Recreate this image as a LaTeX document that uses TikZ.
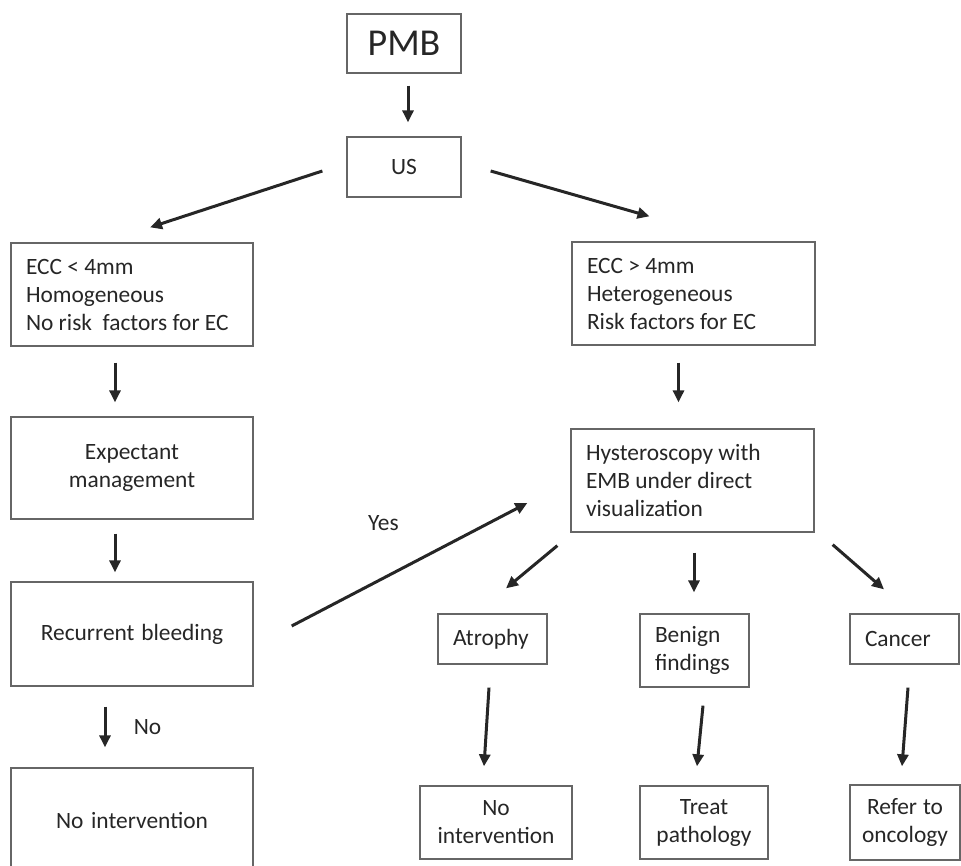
\documentclass[tikz,border=0pt]{standalone}
\usepackage{fontspec}
\setmainfont{Carlito}
\usepackage{xcolor}
\usepackage{tikz}
\usetikzlibrary{arrows.meta}

\tikzset{
    box/.style={
        draw=black!60,
        line width=1.3pt,
        rectangle,
        inner xsep=15pt,
        inner ysep=0pt,
        text=black!85,
        font=\fontsize{23.4}{28}\selectfont,
        execute at begin node={\spaceskip=0pt\xspaceskip=0pt}
        },
    lbox/.style 2 args={box, align=left, text width=#1, minimum height=#2},
    cbox/.style 2 args={box, inner xsep=5pt, align=center, text width=#1, minimum height=#2},
    arr/.style={
        line width=3pt,
        draw=black!85,
        -{Triangle[length=12pt,width=11pt]}
        },
    lbl/.style={text=black!85, font=\fontsize{23.4}{28}\selectfont}
}

\begin{document}
\begin{tikzpicture}[x=1pt,y=-1pt]
                \useasboundingbox (0,0) rectangle (961,866);

                \node[cbox={104pt}{59pt}, font=\fontsize{38}{44}\selectfont] (pmb) at (404,43.5) {PMB};
                \node[cbox={104pt}{60pt}] (us) at (404,167) {US};

                \node[lbox={212pt}{103pt}] (ecclow) at (132,294.5)
                    {ECC < 4mm\\Homogeneous\\No risk~ factors for EC};
                \node[lbox={213pt}{103pt}] (ecchigh) at (693.5,293.5)
                    {ECC > 4mm\\Heterogeneous\\Risk factors for EC};

                \node[cbox={232pt}{102pt}] (expect) at (132,468) {Expectant\\management};
                \node[lbox={213pt}{103pt}] (hyst) at (692.5,480.5)
                    {Hysteroscopy with\\EMB under direct\\visualization};

                \node[cbox={232pt}{104pt}] (recur) at (132,634) {Recurrent bleeding};
                \node[cbox={232pt}{104pt}] (nointl) at (132,820) {No intervention};

                \node[lbox={79pt}{50pt}] (atrophy) at (492.5,639) {Atrophy};
                \node[lbox={79pt}{73pt}] (benign) at (694.5,650.5) {Benign\\findings};
                \node[lbox={79pt}{50pt}] (cancer) at (904.5,639) {Cancer};

                \node[cbox={142pt}{73pt}] (nointr) at (496,822.5) {No\\intervention};
                \node[cbox={118pt}{73pt}] (treat) at (704,822.5) {Treat\\pathology};
                \node[cbox={100pt}{75pt}] (refer) at (905,822.5) {Refer to\\oncology};

                \draw[arr] ([shift={(4,12)}]pmb.south) -- ([shift={(4,-14)}]us.north);
                \draw[arr] ([shift={(-24,4)}]us.west) -- ([shift={(18,-15)}]ecclow.north);
                \draw[arr] ([shift={(29,4)}]us.east) -- ([shift={(-44,-25)}]ecchigh.north);

                \draw[arr] ([shift={(-17,16)}]ecclow.south) -- ([shift={(-17,-14)}]expect.north);
                \draw[arr] ([shift={(-15,17)}]ecchigh.south) -- ([shift={(-14,-26)}]hyst.north);
                \draw[arr] ([shift={(-17,14)}]expect.south) -- ([shift={(-17,-9)}]recur.north);

                \draw[arr] ([shift={(38,-8)}]recur.east) -- ([shift={(-43,22.5)}]hyst.west)
                    node[lbl, midway, shift={(-26,-41)}] (yes) {Yes};
                \draw[arr] ([shift={(-27,20)}]recur.south) -- ([shift={(-27,-20)}]nointl.north)
                    node[lbl, midway, right=24pt] (no) {No};

                \draw[arr] ([shift={(-13,13)}]hyst.south west) -- ([shift={(13.5,-25)}]atrophy.north);
                \draw[arr] ([shift={(1.5,20)}]hyst.south) -- ([shift={(-0.5,-21)}]benign.north);
                \draw[arr] ([shift={(18,12)}]hyst.south east) -- ([shift={(-20.5,-24)}]cancer.north);

                \draw[arr] ([shift={(-3.5,23)}]atrophy.south) -- ([shift={(-12,-19)}]nointr.north);
                \draw[arr] ([shift={(8.5,18)}]benign.south) -- ([shift={(-7,-19)}]treat.north);
                \draw[arr] ([shift={(3.5,23)}]cancer.south) -- ([shift={(-3,-18)}]refer.north);

\end{tikzpicture}
\end{document}
